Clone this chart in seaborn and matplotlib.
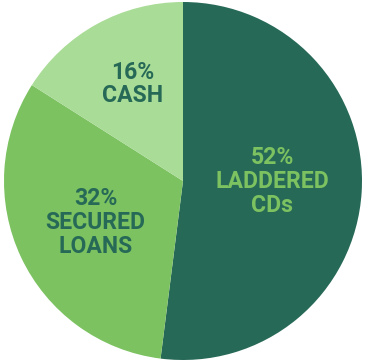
import matplotlib
matplotlib.use("Agg")
import matplotlib.pyplot as plt
import seaborn as sns
import numpy as np

categories = ["LADDERED\nCDs", "SECURED\nLOANS", "CASH"]
values = [52, 32, 16]
slice_colors = ["#276957", "#7cc261", "#a9dc96"]
text_colors = ["#7cc261", "#276957", "#276957"]
label_radius = [0.50, 0.54, 0.61]
label_angle_shift = [3.5, 0.0, -1.5]

sns.set_theme(style="white")
plt.rcParams['font.family'] = ['Roboto', 'DejaVu Sans']

fig = plt.figure(figsize=(3.65, 3.61), dpi=100)
ax = fig.add_axes([0, 0, 1, 1])
R = 179.0
cx, cy = 183.0, 181.0
wedges, _ = ax.pie(values, colors=slice_colors, startangle=90, counterclock=False,
                   radius=1.0, wedgeprops=dict(linewidth=0))
for w, cat, v, tc, r, da in zip(wedges, categories, values, text_colors, label_radius, label_angle_shift):
    mid = np.deg2rad((w.theta1 + w.theta2) / 2 + da)
    ax.text(r * np.cos(mid), r * np.sin(mid), f"{v}%\n{cat}", ha="center", va="center",
            fontsize=16.6, fontweight="bold", color=tc, linespacing=1.05)
ax.set_xlim(-cx / R, (365 - cx) / R)
ax.set_ylim(-(361 - cy) / R, cy / R)
ax.set_aspect("equal", adjustable="datalim")
ax.axis("off")
fig.savefig("out.png", dpi=100, facecolor="white")
